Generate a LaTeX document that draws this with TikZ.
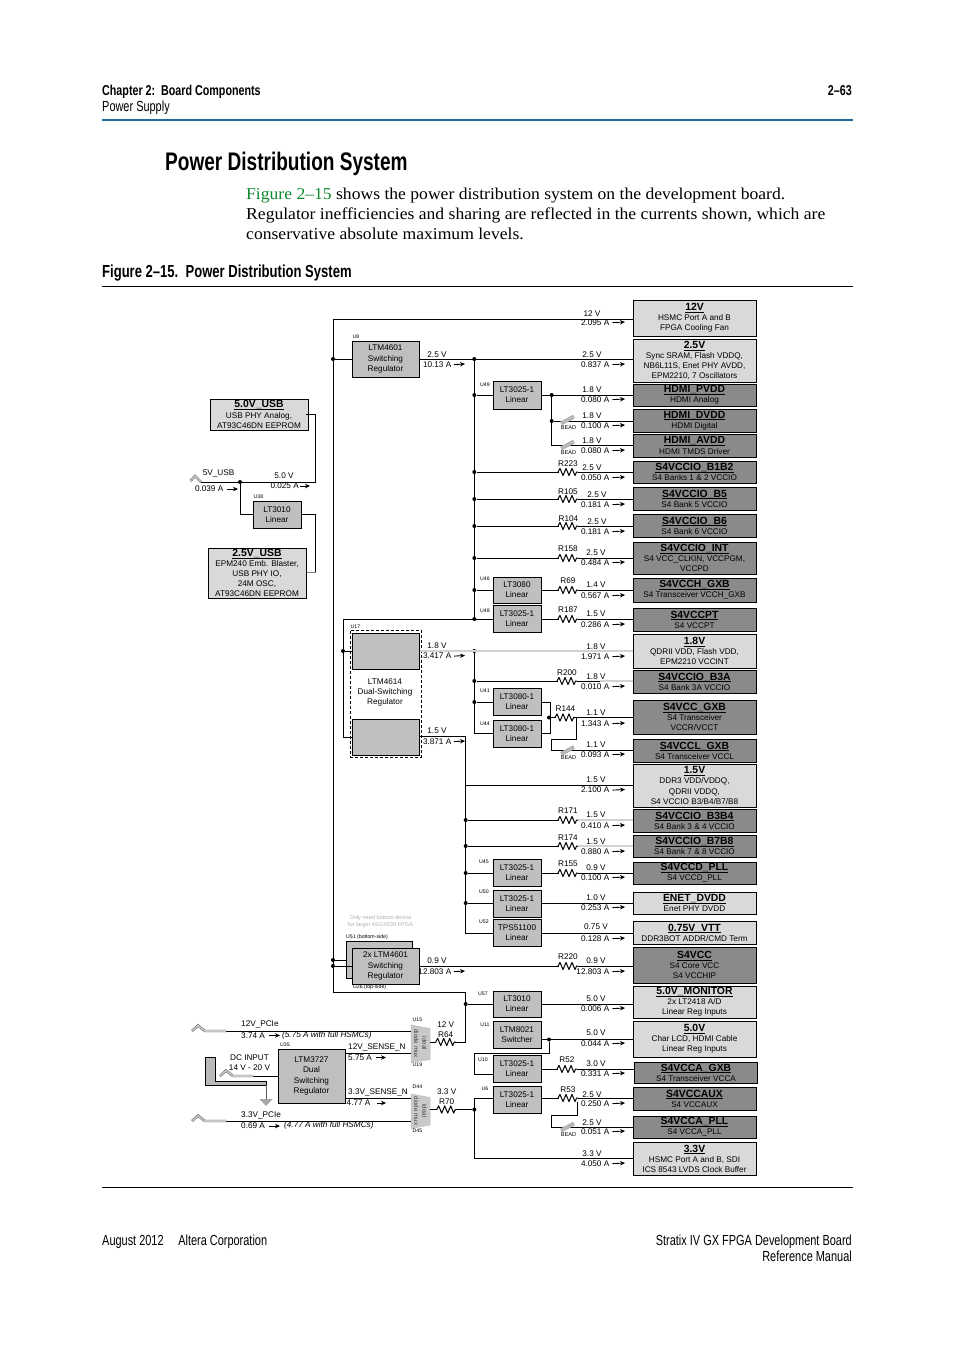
\documentclass[tikz,border=0pt]{standalone}
\usepackage{fontspec}
\setmainfont{Liberation Sans}
\newfontfamily\condfont[FakeStretch=0.75]{Liberation Sans}
\newfontfamily\bodyfont[FakeStretch=1.06]{Liberation Serif}
\usetikzlibrary{arrows.meta,positioning,calc}
\definecolor{rulecol}{HTML}{1F6E9C}
\definecolor{linkcol}{HTML}{0B8A2E}
\definecolor{lightload}{HTML}{D9D9D9}
\definecolor{darkload}{HTML}{8A8A8A}
\definecolor{regfill}{HTML}{BFBFBF}
\newcommand{\dfont}{\fontsize{8.2}{10.1}\selectfont}
\newcommand{\tinyf}{\fontsize{5.2}{6.5}\selectfont}
\newcommand{\ttl}[1]{{\fontsize{10.4}{10.1}\selectfont\bfseries\underline{\raisebox{0pt}[\height][0pt]{#1}}}}
\tikzset{
  lightbox/.style={draw, line width=1pt, fill=lightload, minimum width=123, minimum height=#1, align=center},
  darkbox/.style={draw, line width=1pt, fill=darkload, minimum width=123, minimum height=#1, align=center},
  regbox/.style={draw, line width=1pt, fill=regfill, minimum width=48, minimum height=#1, align=center},
  bigreg/.style={draw, line width=1pt, fill=regfill, minimum width=67, minimum height=#1, align=center},
  usbbox/.style={draw, line width=1pt, fill=lightload, minimum width=98, minimum height=#1, align=center},
  dot/.style={circle, fill=black, minimum size=4},
  wire/.style={line width=1pt},
  palewire/.style={line width=1.3pt, gray!35},
  amp/.style={-{Stealth[length=5pt,width=4.5pt]}, line width=.9pt},
  smalltag/.style={font=\tinyf},
  jack/.style={draw=gray!60!black, line width=.4pt, double=gray!45, double distance=1.6pt},
  beadbox/.style={draw=gray!70, fill=gray!55, rotate=28, minimum width=14, minimum height=3.4},
  mux/.style={draw=gray!50, line width=.5pt, fill=gray!42},
  muxtext/.style={rotate=-90, align=center, text=black!75, font=\fontsize{6.2}{8.2}\selectfont},
  headb/.style={anchor=base west, font=\condfont\bfseries\fontsize{14.3}{16}\selectfont},
  headr/.style={anchor=base west, font=\condfont\fontsize{14.6}{16}\selectfont},
  bodytext/.style={anchor=base west, font=\bodyfont\fontsize{16.6}{20}\selectfont},
  resistor/.pic={
    \fill[white] (-9.5,-4) rectangle (9.5,4);
    \draw[line width=1pt, line join=round] (-10,0) -- (-8,-3.6) -- (-5,3.6) -- (-2,-3.6) -- (1,3.6) -- (4,-3.6) -- (7,3.6) -- (8.6,0) -- (10,0);
  }
}
\begin{document}
\begin{tikzpicture}[x=1pt, y=-1pt, every node/.style={font=\dfont, inner sep=0pt}]
\useasboundingbox (0,0) rectangle (954,1350);
\fill[white] (0,0) rectangle (954,1350);

% page furniture
\node[headb] (chap) at (102,95.5) {Chapter 2:\ \ Board Components};
\node[headr] (sect) at (102,111.5) {Power Supply};
\node[headb, anchor=base east] (pageno) at (852,95.5) {2–63};
\coordinate (hdl) at (102,120); \coordinate (hdr) at (853,120);
\draw[line width=1.5pt, rulecol] (hdl) -- (hdr);
\node[anchor=base west, font=\condfont\bfseries\fontsize{25.4}{28}\selectfont] (title) at (165,170.5) {Power Distribution System};
\node[bodytext] (para1) at (246,199) {\textcolor{linkcol}{Figure 2–15} shows the power distribution system on the development board.};
\node[bodytext] (para2) at (246,219) {Regulator inefficiencies and sharing are reflected in the currents shown, which are};
\node[bodytext] (para3) at (246,239) {conservative absolute maximum levels.};
\node[anchor=base west, font=\condfont\bfseries\fontsize{17.4}{19}\selectfont] (figcap) at (102,277.5) {Figure 2–15.\ \ Power Distribution System};
\coordinate (capl) at (102,286.5); \coordinate (capr) at (853,286.5);
\draw[line width=.7pt] (capl) -- (capr);
\coordinate (botl) at (102,1187.5); \coordinate (botr) at (853,1187.5);
\draw[line width=.7pt] (botl) -- (botr);
\node[headr] (foot1) at (102,1245) {August 2012\quad Altera Corporation};
\node[headr, anchor=base east] (foot2) at (852,1245) {Stratix IV GX FPGA Development Board};
\node[headr, anchor=base east] (foot3) at (852,1261) {Reference Manual};

% loads
\node[lightbox=36] (v12) at (694.5,318) {\ttl{12V}\\HSMC Port A and B\\FPGA Cooling Fan};
\node[lightbox=43] (v25) at (694.5,360.5) {\ttl{2.5V}\\Sync SRAM, Flash VDDQ,\\NB6L11S, Enet PHY AVDD,\\EPM2210, 7 Oscillators};
\node[darkbox=22] (pvdd) at (694.5,395) {\ttl{HDMI\_PVDD}\\HDMI Analog};
\node[darkbox=23] (dvdd) at (694.5,420.5) {\ttl{HDMI\_DVDD}\\HDMI Digital};
\node[darkbox=23] (avdd) at (694.5,445.5) {\ttl{HDMI\_AVDD}\\HDMI TMDS Driver};
\node[darkbox=22] (b1b2) at (694.5,472) {\ttl{S4VCCIO\_B1B2}\\S4 Banks 1 \& 2 VCCIO};
\node[darkbox=23] (b5) at (694.5,498.5) {\ttl{S4VCCIO\_B5}\\S4 Bank 5 VCCIO};
\node[darkbox=23] (b6) at (694.5,525.5) {\ttl{S4VCCIO\_B6}\\S4 Bank 6 VCCIO};
\node[darkbox=32] (vint) at (694.5,558) {\ttl{S4VCCIO\_INT}\\S4 VCC\_CLKIN, VCCPGM,\\VCCPD};
\node[darkbox=24] (vcch) at (694.5,590) {\ttl{S4VCCH\_GXB}\\S4 Transceiver VCCH\_GXB};
\node[darkbox=23] (vcpt) at (694.5,619.5) {\ttl{S4VCCPT}\\S4 VCCPT};
\node[lightbox=34] (v18) at (694.5,651) {\ttl{1.8V}\\QDRII VDD, Flash VDD,\\EPM2210 VCCINT};
\node[darkbox=23] (b3a) at (694.5,681.5) {\ttl{S4VCCIO\_B3A}\\S4 Bank 3A VCCIO};
\node[darkbox=34] (vgxb) at (694.5,717) {\ttl{S4VCC\_GXB}\\S4 Transceiver\\VCCR/VCCT};
\node[darkbox=23] (lgxb) at (694.5,750.5) {\ttl{S4VCCL\_GXB}\\S4 Transceiver VCCL};
\node[lightbox=43] (v15) at (694.5,785.5) {\ttl{1.5V}\\DDR3 VDD/VDDQ,\\QDRII VDDQ,\\S4 VCCIO B3/B4/B7/B8};
\node[darkbox=23] (b3b4) at (694.5,820.5) {\ttl{S4VCCIO\_B3B4}\\S4 Bank 3 \& 4 VCCIO};
\node[darkbox=22] (b7b8) at (694.5,846) {\ttl{S4VCCIO\_B7B8}\\S4 Bank 7 \& 8 VCCIO};
\node[darkbox=22] (vpll) at (694.5,873) {\ttl{S4VCCD\_PLL}\\S4 VCCD\_PLL};
\node[lightbox=22] (enet) at (694.5,903) {\ttl{ENET\_DVDD}\\Enet PHY DVDD};
\node[lightbox=23] (vtt) at (694.5,932.5) {\ttl{0.75V\_VTT}\\DDR3BOT ADDR/CMD Term};
\node[darkbox=36] (s4vcc) at (694.5,965) {\ttl{S4VCC}\\S4 Core VCC\\S4 VCCHIP};
\node[lightbox=32] (mon) at (694.5,1002) {\ttl{5.0V\_MONITOR}\\2x LT2418 A/D\\Linear Reg Inputs};
\node[lightbox=36] (v50) at (694.5,1039) {\ttl{5.0V}\\Char LCD, HDMI Cable\\Linear Reg Inputs};
\node[darkbox=21] (agxb) at (696,1072.5) {\ttl{S4VCCA\_GXB}\\S4 Transceiver VCCA};
\node[darkbox=23] (aux) at (694.5,1098.5) {\ttl{S4VCCAUX}\\S4 VCCAUX};
\node[darkbox=22] (apll) at (694.5,1127) {\ttl{S4VCCA\_PLL}\\S4 VCCA\_PLL};
\node[lightbox=33] (v33) at (694.5,1158.5) {\ttl{3.3V}\\HSMC Port A and B, SDI\\ICS 8543 LVDS Clock Buffer};

% usb side
\node[usbbox=31] (usb50) at (259,414.5) {\ttl{5.0V\_USB}\\USB PHY Analog,\\AT93C46DN EEPROM};
\node[usbbox=50] (usb25) at (257,573) {\ttl{2.5V\_USB}\\EPM240 Emb. Blaster,\\USB PHY IO,\\24M OSC,\\AT93C46DN EEPROM};
\node[regbox=27] (u38) at (277,514.5) {LT3010\\Linear};

% regulators
\node[bigreg=36] (u8) at (385.5,359) {LTM4601\\Switching\\Regulator};
\node[regbox=28] (u49) at (517,395) {LT3025-1\\Linear};
\node[regbox=26] (u46) at (517,590) {LT3080\\Linear};
\node[regbox=27] (u48) at (517,618.5) {LT3025-1\\Linear};
\node[draw, densely dashed, line width=.9pt, minimum width=71, minimum height=127] (u17) at (385.5,693.5) {};
\node[bigreg=36] (u17a) at (385.5,651) {};
\node[bigreg=36] (u17b) at (385.5,737) {};
\node[align=center] (u17t) at (385,692.5) {LTM4614\\Dual-Switching\\Regulator};
\node[regbox=27] (u41) at (517,701.5) {LT3080-1\\Linear};
\node[regbox=27] (u44) at (517,733.5) {LT3080-1\\Linear};
\node[regbox=27] (u45) at (517,872.5) {LT3025-1\\Linear};
\node[regbox=27] (u50) at (517,903.5) {LT3025-1\\Linear};
\node[regbox=27] (u52) at (517,932.5) {TPS51100\\Linear};
\node[draw, line width=1pt, fill=regfill, minimum width=66, minimum height=37] (u51) at (379,959.5) {};
\node[bigreg=36] (u26) at (385.5,966) {2x LTM4601\\Switching\\Regulator};
\node[regbox=26] (u57) at (517,1004) {LT3010\\Linear};
\node[regbox=27] (u11) at (517,1034.5) {LTM8021\\Switcher};
\node[regbox=27] (u10) at (517,1068.5) {LT3025-1\\Linear};
\node[regbox=27] (u6) at (517,1099.5) {LT3025-1\\Linear};
\node[bigreg=54] (u35) at (311.5,1076) {LTM3727\\Dual\\Switching\\Regulator};

% ideal diode muxes
\draw[mux] (411,1025) -- (430,1028.5) -- (430,1059.5) -- (411,1062.5) -- cycle;
\draw[mux] (411,1094) -- (430,1097.5) -- (430,1125) -- (411,1128.5) -- cycle;
\node[muxtext] (u15) at (420.5,1043.5) {ideal\\diode mux};
\node[muxtext] (d44) at (420.5,1111) {ideal\\diode mux};

% junctions
\node[dot] (j8) at (333,359) {};
\node[dot] (j51) at (333,960) {};
\node[dot] (j26) at (333,966) {};
\node[dot] (j25) at (474.3,359) {};
\node[dot] (j49) at (474.3,395) {};
\node[dot] (jb12) at (474.3,472) {};
\node[dot] (jb5) at (474.3,499) {};
\node[dot] (jb6) at (474.3,526) {};
\node[dot] (jint) at (474.3,558) {};
\node[dot] (j46) at (474.3,590) {};
\node[dot] (j48) at (474.3,619) {};
\node[dot] (jpv) at (551.7,395) {};
\node[dot] (jdv) at (551.7,421) {};
\node[dot] (j17a) at (343,651) {};
\node[dot] (j18) at (474.3,651) {};
\node[dot] (jb3a) at (474.3,681) {};
\node[dot] (j41) at (474.3,702) {};
\node[dot] (jgxb) at (549,717.5) {};
\node[dot] (jb34) at (465.7,820) {};
\node[dot] (jb78) at (465.7,846) {};
\node[dot] (j45) at (465.7,873) {};
\node[dot] (j50) at (465.7,903) {};
\node[dot] (j57) at (465.7,1004) {};
\node[dot] (j5v) at (549,1039.5) {};
\node[dot] (j33) at (474.3,1109.5) {};
\node[dot] (jusb) at (240,482) {};

% 12 V and 2.5 V rails
\coordinate (bust) at (333,319); \coordinate (busb) at (333,992); \coordinate (bus12) at (465.7,992);
\coordinate (r64e) at (465.7,1042); \coordinate (u15o) at (430,1042);
\draw[wire] (v12.west |- bust) -- (bust) -- (busb) -- (bus12) -- (r64e) -- (u15o);
\draw[wire] (j8) -- (u8.west |- j8);
\draw[wire] (j51) -- (u51.west |- j51);
\draw[wire] (j26) -- (u26.west |- j26);
\draw[wire] (u8.east |- j25) -- (v25.west |- j25);
\draw[wire] (j25) -- (j48);
\draw[wire] (j49) -- (u49.west |- j49);
\draw[wire] (u49.east |- jpv) -- (pvdd.west |- jpv);
\coordinate (javd) at (551.7,445.5);
\draw[wire] (jpv) -- (javd) -- (avdd.west |- javd);
\draw[wire] (jdv) -- (dvdd.west |- jdv);
\draw[wire] (jb12) -- (b1b2.west |- jb12);
\draw[wire] (jb5) -- (b5.west |- jb5);
\draw[wire] (jb6) -- (b6.west |- jb6);
\draw[wire] (jint) -- (vint.west |- jint);
\draw[wire] (j46) -- (u46.west |- j46);
\draw[wire] (u46.east |- j46) -- (vcch.west |- j46);
\draw[wire] (u48.east |- j48) -- (vcpt.west |- j48);
\coordinate (feed48) at (343,619); \coordinate (feedb) at (343,737);
\draw[wire] (u48.west |- j48) -- (feed48) -- (feedb) -- (u17b.west |- feedb);
\draw[wire] (j17a) -- (u17a.west |- j17a);

% 1.8 V rail
\draw[palewire] (u17a.east |- j18) -- (v18.west |- j18);
\coordinate (j44) at (474.3,733);
\draw[wire] (j18) -- (j44) -- (u44.west |- j44);
\draw[wire] (j41) -- (u41.west |- j41);
\draw[wire] (jb3a) -- (600,681);
\draw[palewire] (600,681) -- (b3a.west |- jb3a);
\coordinate (o41) at (550,702); \coordinate (o44) at (550,733);
\draw[wire] (u41.east |- o41) -- (o41) -- (o44) -- (u44.east |- o44);
\draw[wire] (jgxb) -- (vgxb.west |- jgxb);
\coordinate (gxa) at (576,717.5); \coordinate (gxb) at (576,739); \coordinate (gxc) at (551.7,739); \coordinate (gxd) at (551.7,750);
\draw[wire] (gxa) -- (gxb) -- (gxc) -- (gxd) -- (lgxb.west |- gxd);

% 1.5 V rail
\coordinate (r15a) at (465.7,736); \coordinate (r15b) at (465.7,933); \coordinate (j15) at (465.7,785);
\draw[wire] (u17b.east |- r15a) -- (r15a) -- (r15b) -- (u52.west |- r15b);
\draw[wire] (j15) -- (v15.west |- j15);
\draw[wire] (jb34) -- (578,820);
\draw[palewire] (578,820) -- (b3b4.west |- jb34);
\draw[wire] (jb78) -- (578,846);
\draw[palewire] (578,846) -- (b7b8.west |- jb78);
\draw[wire] (j45) -- (u45.west |- j45);
\draw[wire] (j50) -- (u50.west |- j50);
\draw[wire] (u45.east |- j45) -- (vpll.west |- j45);
\draw[wire] (u50.east |- j50) -- (enet.west |- j50);
\draw[wire] (u52.east |- r15b) -- (vtt.west |- r15b);

% 0.9 V and lower rails
\draw[wire] (u26.east |- j26) -- (s4vcc.west |- j26);
\draw[wire] (j57) -- (u57.west |- j57);
\draw[wire] (u57.east |- j57) -- (mon.west |- j57);
\draw[wire] (u11.east |- j5v) -- (v50.west |- j5v);
\coordinate (fa) at (549,1053); \coordinate (fb) at (474.3,1053); \coordinate (fc) at (474.3,1074);
\draw[wire] (j5v) -- (fa) -- (fb) -- (fc) -- (u10.west |- fc);
\coordinate (o10) at (517,1069);
\draw[wire] (u10.east |- o10) -- (agxb.west |- o10);
\coordinate (u6i) at (474.3,1098); \coordinate (o33) at (474.3,1158.5); \coordinate (d44o) at (430,1109.5);
\draw[wire] (d44o) -- (j33);
\draw[wire] (u6.west |- u6i) -- (u6i) -- (o33) -- (v33.west |- o33);
\draw[wire] (u6.east |- u6i) -- (aux.west |- u6i);
\coordinate (pa) at (577,1098); \coordinate (pb) at (577,1115.5); \coordinate (pc) at (551.7,1115.5); \coordinate (pd) at (551.7,1127);
\draw[wire] (pa) -- (pb) -- (pc) -- (pd) -- (apll.west |- pd);

% usb wires
\coordinate (usba) at (201,482); \coordinate (usbb) at (315.7,482); \coordinate (usbc) at (315.7,414); \coordinate (usbd) at (305.7,414);
\draw[wire] (usba) -- (usbb) -- (usbc) -- (usbd);
\coordinate (usbe) at (240,514);
\draw[wire] (jusb) -- (usbe) -- (u38.west |- usbe);
\coordinate (usbf) at (315.7,514); \coordinate (usbg) at (315.7,572);
\draw[wire] (u38.east |- usbf) -- (usbf) -- (usbg);
\draw[line width=.9pt, gray] (usbg) -- (usb25.east |- usbg);
\draw[jack] (190.5,481) -- (195,476) -- (usba);

% input wires
\coordinate (pc12) at (226,1031); \coordinate (m12) at (411,1031);
\coordinate (pc33) at (226,1121); \coordinate (m33) at (411,1121);
\coordinate (dcj) at (253,1076);
\coordinate (s12) at (411,1053); \coordinate (s33) at (411,1098);
\draw[wire] (pc12) -- (m12);
\draw[wire] (pc33) -- (m33);
\draw[wire] (dcj) -- (u35.west |- dcj);
\draw[wire] (u35.east |- s12) -- (s12);
\draw[wire] (u35.east |- s33) -- (s33);
\draw[jack] (192,1031) -- (198,1025.5) -- (205,1031) -- (pc12);
\draw[jack] (192,1121) -- (198,1115.5) -- (205,1121) -- (pc33);
\draw[jack] (220,1076) -- (226,1070.5) -- (233,1076) -- (dcj);
\draw[line width=.7pt, fill=gray!55] (205,1057) -- (215,1057) -- (215,1081) -- (266,1081) -- (266,1085) -- (205,1085) -- cycle;
\coordinate (gnda) at (266,1085); \coordinate (gndb) at (266,1099);
\draw[line width=.7pt, gray!70!black] (gnda) -- (gndb);
\fill[gray!70] (259.5,1099) -- (272.5,1099) -- (266,1106) -- cycle;

% resistors and beads
\pic at (568,472) {resistor}; \pic at (568,499) {resistor}; \pic at (568,526) {resistor};
\pic at (568,558) {resistor}; \pic at (568,590) {resistor}; \pic at (568,619) {resistor};
\pic at (567,681) {resistor}; \pic at (565,717.5) {resistor}; \pic at (568,820) {resistor};
\pic at (568,846) {resistor}; \pic at (568,873) {resistor}; \pic at (568,966) {resistor};
\pic at (567,1069) {resistor}; \pic at (568,1098) {resistor};
\pic at (445.7,1042) {resistor}; \pic at (446.7,1109.5) {resistor};
\node[beadbox] (bead1) at (567.5,420) {};
\node[beadbox] (bead2) at (567.5,445) {};
\node[beadbox] (bead3) at (567.5,750.5) {};
\node[beadbox] (bead4) at (567.5,1127) {};
\node[font=\fontsize{5.6}{6}\selectfont] (bead1t) at (568.5,428) {BEAD};
\node[font=\fontsize{5.6}{6}\selectfont] (bead2t) at (568.5,452.5) {BEAD};
\node[font=\fontsize{5.6}{6}\selectfont] (bead3t) at (568.5,757.5) {BEAD};
\node[font=\fontsize{5.6}{6}\selectfont] (bead4t) at (568.5,1134.5) {BEAD};

% voltage and current labels at the loads
\foreach \n/\vx/\vy/\vt/\ay/\at in {
  l12/592/313/12 V/322/2.095 A, l25/592/354.5/2.5 V/364/0.837 A,
  lpv/592/389/1.8 V/399/0.080 A, ldv/592/415/1.8 V/425/0.100 A,
  lav/592/440/1.8 V/450/0.080 A, lb12/592/467/2.5 V/477/0.050 A,
  lb5/597/494/2.5 V/504/0.181 A, lb6/597/521/2.5 V/531/0.181 A,
  lint/596/552.5/2.5 V/562/0.484 A, lch/596/584.5/1.4 V/595/0.567 A,
  lpt/596/613.5/1.5 V/624/0.286 A, l18/596/646/1.8 V/656/1.971 A,
  lb3a/596/676/1.8 V/686/0.010 A, lgxb/596/712/1.1 V/723/1.343 A,
  lcl/596/744.5/1.1 V/754/0.093 A, l15/596/779/1.5 V/789.5/2.100 A,
  lb34/596/814/1.5 V/825/0.410 A, lb78/596/841/1.5 V/851/0.880 A,
  lvd/596/867/0.9 V/877/0.100 A, len/596/897/1.0 V/907/0.253 A,
  ltt/596/926/0.75 V/938/0.128 A, lvc/596/960/0.9 V/971/12.803 A,
  lmo/596/998/5.0 V/1008/0.006 A, l50/596/1032/5.0 V/1043/0.044 A,
  lag/596/1063/3.0 V/1073/0.331 A, lax/592/1094/2.5 V/1103/0.250 A,
  lap/592/1122/2.5 V/1131/0.051 A, l33/592/1153/3.3 V/1163/4.050 A}
{
  \node[yshift=-.6pt] (\n-v) at (\vx,\vy) {\vt};
  \node[anchor=east, yshift=-.6pt] (\n-a) at (609.5,\ay) {\at};
  \coordinate (\n-t) at (625,\ay);
  \draw[amp] ([xshift=3]\n-a.east) -- (\n-t);
}

% labels at the regulator outputs
\foreach \n/\vy/\vt/\ay/\at in {o8/354.5/2.5 V/364/10.13 A, oa/645.5/1.8 V/655.5/3.417 A,
  ob/730.5/1.5 V/741/3.871 A, oc/960/0.9 V/971/12.803 A}
{
  \node[yshift=-.6pt] (\n-v) at (437,\vy) {\vt};
  \node[anchor=east, yshift=-.6pt] (\n-a) at (451.5,\ay) {\at};
  \coordinate (\n-t) at (465,\ay);
  \draw[amp] ([xshift=2.5]\n-a.east) -- (\n-t);
}

% resistor names
\node (r223) at (568,463.5) {R223}; \node (r105) at (568,491.5) {R105}; \node (r104) at (568.5,518.5) {R104};
\node (r158) at (568,549) {R158}; \node (r69) at (568,581) {R69}; \node (r187) at (568,610) {R187};
\node (r200) at (567,673) {R200}; \node (r144) at (565.5,709) {R144}; \node (r171) at (568,811) {R171};
\node (r174) at (568,838) {R174}; \node (r155) at (568,864) {R155}; \node (r220) at (568,957) {R220};
\node (r52) at (567,1059.5) {R52}; \node (r53) at (568,1090) {R53};
\node[align=center] (r64) at (445.7,1030) {12 V\\R64};
\node[align=center] (r70) at (446.7,1096.5) {3.3 V\\R70};

% part numbers
\node[smalltag] (t8) at (356,337) {U8}; \node[smalltag] (t49) at (485,385) {U49};
\node[smalltag] (t46) at (485,579) {U46}; \node[smalltag] (t48) at (485,611) {U48};
\node[smalltag] (t17) at (355.5,626.5) {U17}; \node[smalltag] (t41) at (485,691) {U41};
\node[smalltag] (t44) at (485,724) {U44}; \node[smalltag] (t45) at (484,862) {U45};
\node[smalltag] (t50) at (484,892) {U50}; \node[smalltag] (t52) at (484,922) {U52};
\node[smalltag, anchor=west] (t51) at (346,937) {U51 (bottom-side)};
\node[smalltag, anchor=west] (t26) at (353,987) {U26 (top-side)};
\node[smalltag] (t57) at (483,993.5) {U57}; \node[smalltag] (t11) at (485,1024.5) {U11};
\node[smalltag] (t10) at (483,1059.5) {U10}; \node[smalltag] (t6) at (485,1088.5) {U6};
\node[smalltag] (t38) at (258.5,497) {U38}; \node[smalltag] (t35) at (285,1045) {U35};
\node[smalltag] (t15) at (417.5,1020) {U15}; \node[smalltag] (t19) at (417.5,1064.5) {U19};
\node[smalltag] (t44d) at (417.5,1087) {D44}; \node[smalltag] (t45d) at (417.5,1131) {D45};
\node[align=center, text=gray!60, font=\fontsize{5.6}{7}\selectfont] (tnote) at (380.5,921.5) {Only need bottom device\\for larger 4SGX530 FPGA};

% usb and input labels
\node (usbn) at (218.5,473.5) {5V\_USB};
\node[anchor=east] (usbi) at (223.5,489) {0.039 A};
\coordinate (usbit) at (238,489);
\draw[amp] ([xshift=3]usbi.east) -- (usbit);
\node (usbv) at (284,476) {5.0 V};
\node[anchor=east] (usbo) at (299,486) {0.025 A};
\coordinate (usbot) at (310,486);
\draw[amp] ([xshift=1]usbo.east) -- (usbot);
\node[anchor=west] (pc12n) at (241,1024) {12V\_PCIe};
\node[anchor=west] (pc12a) at (241,1035.5) {3.74 A};
\coordinate (pc12t) at (280,1035.5);
\draw[amp] ([xshift=3.5]pc12a.east) -- (pc12t);
\node[anchor=west, font=\dfont\itshape] (pc12f) at (282,1035.5) {(5.75 A with full HSMCs)};
\node[anchor=west] (pc33n) at (241,1115) {3.3V\_PCIe};
\node[anchor=west] (pc33a) at (241,1126) {0.69 A};
\coordinate (pc33t) at (280,1126);
\draw[amp] ([xshift=3.5]pc33a.east) -- (pc33t);
\node[anchor=west, font=\dfont\itshape] (pc33f) at (284,1125.5) {(4.77 A with full HSMCs)};
\node[align=center] (dcin) at (249.5,1062.5) {DC INPUT\\14 V - 20 V};
\node[anchor=west] (sn12) at (348,1047) {12V\_SENSE\_N};
\node[anchor=west] (sn12a) at (348,1057.5) {5.75 A};
\coordinate (sn12t) at (386,1057.5);
\draw[amp] ([xshift=4]sn12a.east) -- (sn12t);
\node[anchor=west] (sn33) at (348,1092) {3.3V\_SENSE\_N};
\node[anchor=west] (sn33a) at (346.5,1103) {4.77 A};
\coordinate (sn33t) at (386,1103);
\draw[amp] ([xshift=6]sn33a.east) -- (sn33t);
\end{tikzpicture}
\end{document}
